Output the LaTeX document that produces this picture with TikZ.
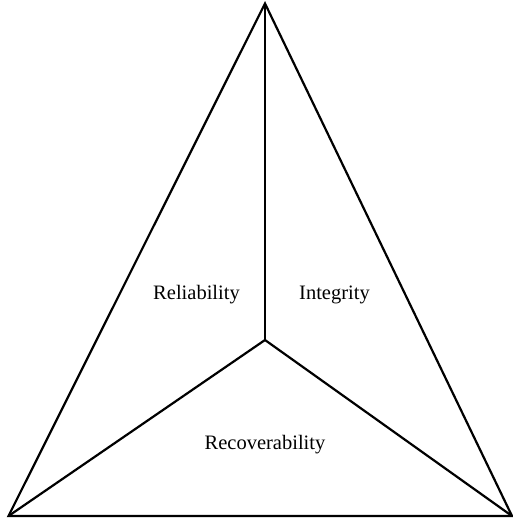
\documentclass[tikz,border=0pt]{standalone}
\usepackage{fontspec}
\setmainfont{Liberation Serif}
\begin{document}
\begin{tikzpicture}[x=1pt,y=-1pt,
  edge/.style={draw=black,line width=2.2pt,line join=miter},
  lbl/.style={font=\fontsize{20.5}{24}\selectfont,inner sep=0pt}]
\useasboundingbox (0,0) rectangle (513,519);
\coordinate (apex) at (265,3.5);
\coordinate (bl) at (8.5,516);
\coordinate (br) at (512,516);
\coordinate (mid) at (265,340);
\draw[edge] (apex) -- (bl) -- (br) -- cycle;
\draw[edge] (mid) -- (apex);
\draw[edge] (mid) -- (bl);
\draw[edge] (mid) -- (br);
\node[lbl] (rel) at (196.5,295) {Reliability};
\node[lbl] (int) at (334.5,295) {Integrity};
\node[lbl] (rec) at (265,445) {Recoverability};
\end{tikzpicture}
\end{document}
